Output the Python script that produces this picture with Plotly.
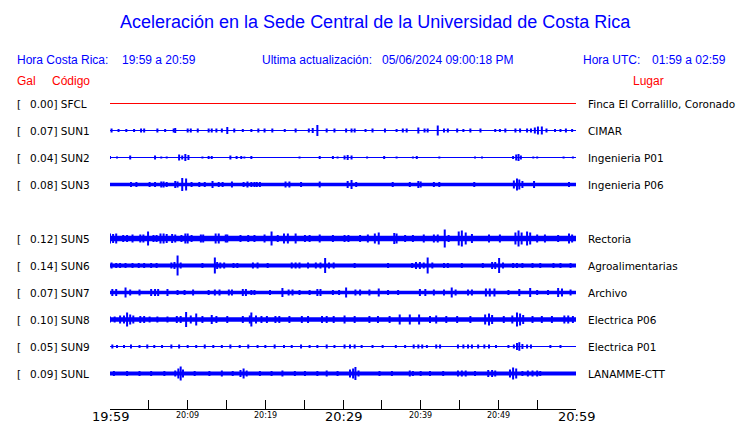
import plotly.graph_objects as go

# ---------------- data ----------------
STATIONS = ["SFCL", "SUN1", "SUN2", "SUN3", "SUN5", "SUN6", "SUN7", "SUN8", "SUN9", "SUNL"]
PEAK_GAL = ["0.00", "0.07", "0.04", "0.08", "0.12", "0.14", "0.07", "0.10", "0.05", "0.09"]
PLACES = ["Finca El Corralillo, Coronado", "CIMAR", "Ingenieria P01", "Ingenieria P06",
          "Rectoria", "Agroalimentarias", "Archivo", "Electrica P06", "Electrica P01", "LANAMME-CTT"]
# channel row (row 4 = SUN4, not reporting)
ROWS = [0, 1, 2, 3, 5, 6, 7, 8, 9, 10]
# background noise half-amplitude (display counts)
BASE_NOISE = [0.5, 0.5, 0.5, 1.85, 2.65, 2.0, 1.65, 2.15, 0.5, 2.0]

# bursts: (minutes after 19:59, half-amplitude in display counts)
SFCL_BURSTS = []
SUN1_BURSTS = [(0.2, 2), (1.1, 1.5), (2.1, 1.5), (3.1, 1.5), (4.0, 2), (4.4, 2), (6.1, 2), (7.1, 1.5), (8.2, 2), (8.4, 2.5),
               (10.0, 2), (10.4, 2), (11.3, 2), (12.7, 2), (13.1, 2), (13.7, 2), (14.4, 2), (15.1, 3.5), (16.0, 2), (17.1, 1.5),
               (18.2, 1.5), (19.1, 2), (19.9, 2), (20.9, 2), (22.5, 1.5), (23.9, 2), (25.6, 2), (26.1, 2.5), (26.7, 5.5), (27.9, 2),
               (28.9, 2), (30.4, 2), (31.1, 2), (31.5, 2), (32.9, 1.5), (33.8, 2), (35.4, 2), (36.9, 1.5), (37.7, 2), (38.2, 2),
               (39.7, 3), (40.5, 2), (40.9, 2), (42.2, 5), (43.0, 2), (43.5, 2), (44.7, 2), (45.5, 1.5), (46.4, 2), (47.7, 2),
               (49.6, 1.5), (50.2, 1.5), (50.9, 2), (52.2, 2), (52.8, 2), (53.7, 2), (54.2, 2), (54.7, 3), (55.1, 4), (55.6, 4),
               (56.2, 2), (57.3, 1.5), (58.0, 1.5), (58.7, 2), (59.5, 1.5)]
SUN2_BURSTS = [(0.0, 1.5), (0.9, 1), (2.6, 2), (5.8, 2), (6.6, 1), (7.3, 1), (8.9, 3), (9.3, 2), (9.7, 3.5), (10.1, 2.5),
               (11.9, 1), (12.7, 1.5), (13.1, 1.5), (15.5, 2), (16.3, 1.5), (16.9, 1.5), (17.3, 1), (18.2, 1.5), (24.4, 1), (27.0, 1.5),
               (28.7, 1.5), (29.3, 1), (30.2, 2), (30.6, 2.5), (31.1, 2), (33.1, 1), (35.3, 1.5), (36.9, 1), (39.0, 1), (39.5, 1.5),
               (42.4, 1), (47.0, 1), (47.9, 1), (51.9, 1.5), (52.3, 3), (52.6, 3.5), (52.9, 2), (54.5, 1), (55.0, 1), (58.4, 1), (59.6, 1)]
SUN3_BURSTS = [(2.7, 2.5), (3.4, 2.5), (5.1, 2.5), (5.8, 2.5), (6.6, 3), (6.9, 3), (7.3, 2.5), (8.4, 3.5), (8.7, 3), (9.3, 6.5),
               (9.8, 6), (10.5, 2.5), (11.5, 2.5), (12.2, 2.5), (13.2, 3.5), (14.0, 2.5), (14.5, 2.5), (15.7, 3), (17.2, 2.5), (17.7, 3),
               (18.2, 2.5), (18.6, 2.5), (18.9, 2.5), (19.3, 2.5), (22.6, 3), (23.1, 3), (24.6, 2.5), (27.0, 3), (30.6, 3.5), (31.1, 4.5),
               (31.7, 2.5), (36.4, 2.5), (38.6, 2.5), (39.7, 3.5), (40.0, 3), (41.7, 2.5), (42.4, 2.5), (46.9, 2.5), (52.0, 4), (52.4, 6),
               (52.7, 5), (53.1, 3.5), (54.6, 3.5), (59.1, 2.5)]
SUN5_BURSTS = [(0.0, 5), (0.4, 4.5), (0.8, 5), (1.7, 3.5), (2.2, 3.5), (2.9, 4), (3.9, 4), (4.3, 4), (4.9, 7), (5.6, 3.5),
               (6.0, 3.5), (6.5, 5), (6.9, 5), (7.3, 4.5), (8.0, 4.5), (8.4, 4), (9.2, 3.5), (9.7, 5), (10.0, 5), (10.5, 3.5),
               (11.7, 4), (12.0, 4), (13.6, 5), (14.0, 5), (14.9, 4), (15.1, 4), (16.8, 3.5), (17.8, 3.5), (18.6, 3.5), (19.9, 4),
               (20.8, 7), (21.6, 3.5), (22.4, 5), (22.9, 5), (23.9, 5), (25.1, 3.5), (25.7, 3.5), (27.0, 4), (28.7, 3.5), (30.2, 3.5),
               (30.7, 3.5), (32.2, 3.5), (33.2, 4), (34.1, 5), (34.6, 6), (36.6, 5.5), (36.9, 5), (38.0, 3.5), (39.0, 3.5), (40.4, 4),
               (41.7, 4), (42.2, 4), (43.1, 9), (43.6, 3.5), (44.9, 7), (45.3, 8), (45.8, 6), (46.6, 4.5), (48.8, 4), (50.2, 4),
               (52.2, 6), (52.6, 8), (53.0, 6), (53.7, 7), (54.1, 6), (55.0, 4), (56.0, 4), (57.7, 3.5), (59.1, 5), (59.5, 4)]
SUN6_BURSTS = [(0.2, 3), (0.8, 2.5), (1.3, 2.5), (2.0, 2.5), (2.9, 2.5), (3.7, 2.5), (4.4, 2.5), (5.3, 2.5), (6.0, 2.5), (7.9, 3),
               (8.3, 3.5), (8.7, 10), (9.1, 3), (11.9, 2.5), (13.5, 8), (13.8, 3.5), (14.2, 3), (14.7, 3), (15.9, 2.5), (16.4, 2.5),
               (18.4, 3), (19.0, 3), (20.3, 2.5), (23.4, 3), (23.9, 3), (24.4, 3), (25.5, 3), (26.5, 3), (27.1, 3), (27.7, 7.5),
               (28.2, 3), (28.8, 3), (31.5, 2.5), (35.8, 2.5), (38.9, 2.5), (39.4, 3.5), (39.9, 3.5), (40.4, 3), (40.9, 8), (41.5, 3),
               (43.0, 2.5), (43.5, 2.5), (45.3, 2.5), (48.0, 2.5), (49.2, 3.5), (49.6, 3.5), (50.1, 7.5), (50.6, 3), (51.9, 2.5), (52.4, 2.5),
               (53.1, 2.5), (54.4, 2.5), (55.4, 2.5), (57.1, 2.5), (58.0, 2.5), (59.3, 2.5)]
SUN7_BURSTS = [(0.3, 3.5), (0.8, 3.5), (2.0, 5), (2.6, 3), (3.8, 3), (5.3, 3.5), (5.8, 3.5), (6.2, 3.5), (7.4, 3.5), (8.7, 2.5),
               (9.6, 2.5), (10.7, 3), (12.7, 2.5), (13.5, 3), (14.1, 3), (15.3, 3), (15.7, 3), (17.1, 3.5), (17.5, 3.5), (18.2, 2.5),
               (18.6, 2.5), (20.6, 2.5), (22.2, 4.5), (23.0, 3), (23.5, 3), (24.4, 2.5), (25.7, 2.5), (26.7, 3.5), (27.1, 3.5), (28.7, 2.5),
               (29.5, 2.5), (30.4, 5), (31.6, 3), (32.2, 3), (33.4, 3), (34.6, 4), (35.8, 2.5), (37.1, 2.5), (39.9, 3.5), (40.6, 3.5),
               (41.7, 3), (43.0, 3), (44.0, 5), (44.5, 3), (46.1, 3), (46.6, 3), (48.4, 4), (48.9, 4), (49.5, 4), (51.3, 2.5),
               (52.7, 3.5), (54.1, 4.5), (55.0, 2.5), (56.4, 2.5), (57.7, 4.5), (58.2, 4), (59.3, 3)]
SUN8_BURSTS = [(0.0, 3), (0.6, 3), (1.3, 4), (1.8, 4), (2.2, 7), (2.6, 5), (3.0, 4), (3.9, 3.5), (4.4, 3.5), (5.1, 3),
               (6.1, 3), (7.4, 3), (8.6, 3.5), (9.1, 3.5), (9.8, 7.5), (10.4, 4), (11.1, 6), (11.9, 3.5), (13.1, 4.5), (13.7, 3.5),
               (15.1, 3.5), (17.1, 3.5), (18.0, 4), (18.2, 7), (18.8, 4), (19.5, 3.5), (20.2, 3.5), (21.3, 3.5), (21.8, 3.5), (23.1, 3.5),
               (24.7, 3.5), (25.5, 3.5), (27.3, 3.5), (27.9, 3.5), (28.8, 3.5), (30.2, 4), (31.5, 3.5), (33.4, 3.5), (34.5, 3.5), (36.0, 3.5),
               (37.3, 5), (38.6, 5), (39.8, 5), (41.2, 3.5), (42.0, 4), (43.3, 3.5), (44.7, 3.5), (46.4, 3.5), (48.3, 5), (48.8, 6),
               (49.2, 4.5), (50.7, 3.5), (51.8, 4), (52.4, 7), (52.8, 6), (53.2, 4.5), (54.4, 3.5), (55.6, 3.5), (56.9, 3.5), (58.5, 4),
               (59.0, 4), (59.6, 3.5)]
SUN9_BURSTS = [(0.3, 2), (0.9, 1.5), (1.8, 1.5), (2.7, 2), (3.8, 1.5), (4.8, 2), (5.7, 1.5), (6.7, 1.5), (7.9, 2), (8.9, 2),
               (10.0, 1.5), (11.1, 1.5), (12.2, 2), (13.3, 1.5), (14.4, 1.5), (15.5, 2), (16.7, 1.5), (17.8, 2), (19.0, 1.5), (20.0, 1.5),
               (21.2, 2), (22.4, 1.5), (23.4, 1.5), (24.6, 2), (25.7, 1.5), (26.7, 1.5), (27.9, 2), (28.9, 1.5), (30.2, 2), (30.9, 2),
               (31.5, 2), (32.4, 1.5), (33.8, 1.5), (35.1, 1.5), (36.8, 1.5), (38.0, 1.5), (39.1, 2), (39.7, 2), (40.2, 2), (40.8, 1.5),
               (42.0, 2), (42.5, 2), (44.8, 2), (45.5, 2), (46.1, 2), (46.6, 2), (47.4, 2), (48.2, 2), (48.8, 2), (49.7, 1.5),
               (51.3, 1.5), (52.0, 2), (52.4, 3.5), (52.7, 4.3), (53.1, 2.5), (53.7, 2), (54.2, 2), (56.7, 1.5), (58.0, 1.5)]
SUNL_BURSTS = [(0.5, 2.5), (2.2, 2.5), (3.8, 2.5), (5.3, 2.5), (7.0, 2.5), (8.4, 3), (8.8, 5), (9.1, 7), (9.4, 4), (10.9, 2.5),
               (12.8, 2.5), (14.4, 3), (15.8, 2.5), (16.8, 3.5), (17.2, 5), (17.6, 3), (19.3, 2.5), (20.8, 2.5), (22.2, 3), (23.8, 2.5),
               (25.1, 2.5), (26.7, 2.5), (27.9, 3), (29.3, 2.5), (30.9, 4), (31.3, 5), (31.6, 6.5), (32.0, 3), (34.7, 2.5), (36.3, 2.5),
               (38.6, 3), (39.0, 2.5), (40.0, 2.5), (41.2, 2.5), (42.9, 2.5), (44.8, 3), (45.3, 3), (45.8, 3), (47.0, 2.5), (48.7, 3.5),
               (49.2, 3.5), (49.6, 3), (51.5, 4), (51.9, 6), (52.3, 5), (53.1, 2.5), (53.8, 3), (54.4, 3), (55.0, 3), (55.4, 2.5)]
BURSTS = [SFCL_BURSTS, SUN1_BURSTS, SUN2_BURSTS, SUN3_BURSTS, SUN5_BURSTS,
          SUN6_BURSTS, SUN7_BURSTS, SUN8_BURSTS, SUN9_BURSTS, SUNL_BURSTS]

TICK_MINUTES = list(range(0, 61, 5))
LABEL_MINUTES = [0, 10, 20, 30, 40, 50, 60]
LABEL_TEXT = ["19:59", "20:09", "20:19", "20:29", "20:39", "20:49", "20:59"]
MAJOR_LABELS = ["19:59", "20:29", "20:59"]

TITLE = "Aceleración en la Sede Central de la Universidad de Costa Rica"
HORA_CR = "19:59 a 20:59"
ACTUALIZACION = "05/06/2024 09:00:18 PM"
HORA_UTC = "01:59 a 02:59"

# ---------------- style ----------------
BLUE = "#0000FF"
RED = "#FF0000"
ROW_H = 27
W, H = 740, 423
ML, MR, MT, MB = 110, 164, 90, 14
PW, PH = W - ML - MR, H - MT - MB
SANS = "Liberation Sans, Arial, sans-serif"
DJ = "DejaVu Sans, sans-serif"
Y_TOP = -13.5  # data value at top edge of plot area


def px_x(px):
    return (px - ML) / PW


def px_y(py):
    return (H - MB - py) / PH


fig = go.Figure()
for i, st in enumerate(STATIONS):
    off = ROWS[i] * ROW_H
    b = BASE_NOISE[i]
    col = RED if st == "SFCL" else BLUE
    fig.add_trace(go.Scatter(x=[0, 60, 60, 0, 0], y=[off - b, off - b, off + b, off + b, off - b],
                             mode="lines", fill="toself", fillcolor=col, line=dict(width=0, color=col),
                             hoverinfo="skip", showlegend=False))
    xs, ys = [], []
    for m, a in BURSTS[i]:
        xs += [m, m, None]
        ys += [off - a, off + a, None]
    if xs:
        fig.add_trace(go.Scatter(x=xs, y=ys, mode="lines", line=dict(color=col, width=2),
                                 hoverinfo="skip", showlegend=False))

ann = []
# station labels
for i, st in enumerate(STATIONS):
    off = ROWS[i] * ROW_H
    ann.append(dict(x=px_x(15), y=off, xref="paper", yref="y", text="[", xanchor="left", yanchor="middle",
                    showarrow=False, font=dict(family=DJ, size=10.5, color="black")))
    ann.append(dict(x=px_x(27.5), y=off, xref="paper", yref="y", text=f"{PEAK_GAL[i]}] {st}",
                    xanchor="left", yanchor="middle", showarrow=False,
                    font=dict(family=DJ, size=10.5, color="black")))
    ann.append(dict(x=px_x(586), y=off, xref="paper", yref="y", text=PLACES[i], xanchor="left",
                    yanchor="middle", showarrow=False, font=dict(family=DJ, size=10.5, color="black")))

# time labels
for m, t in zip(LABEL_MINUTES, LABEL_TEXT):
    big = t in MAJOR_LABELS
    ann.append(dict(x=m, y=px_y(416.5 if big else 415.5), xref="x", yref="paper", text=t, xanchor="center",
                    yanchor="middle", showarrow=False,
                    font=dict(family=DJ, size=13 if big else 8, color="black")))

# header texts
def head(px, py, text, color, size=12, anchor="left", family=SANS):
    ann.append(dict(x=px_x(px), y=px_y(py), xref="paper", yref="paper", text=text, xanchor=anchor,
                    yanchor="middle", showarrow=False, font=dict(family=family, size=size, color=color)))


head(375.5, 22, TITLE, BLUE, size=18, anchor="center")
head(15, 60.5, "Hora Costa Rica:", BLUE)
head(119.5, 60.5, HORA_CR, BLUE)
head(260, 60.5, "Ultima actualización:", BLUE)
head(380, 60.5, ACTUALIZACION, BLUE)
head(580.5, 60.5, "Hora UTC:", BLUE)
head(650, 60.5, HORA_UTC, BLUE)
head(15, 80.5, "Gal", RED)
head(50, 80.5, "Código", RED)
head(631, 80.5, "Lugar", RED)

fig.update_layout(
    width=W, height=H, autosize=False,
    margin=dict(l=ML, r=MR, t=MT, b=MB, pad=0),
    paper_bgcolor="white", plot_bgcolor="white",
    showlegend=False, annotations=ann,
    xaxis=dict(range=[0, 60], showgrid=False, zeroline=False, showline=True, linecolor="black",
               linewidth=1, ticks="inside", ticklen=9, tickwidth=1, tickcolor="black",
               tickvals=TICK_MINUTES, showticklabels=False, fixedrange=True),
    yaxis=dict(range=[Y_TOP + PH, Y_TOP], showgrid=False, zeroline=False, showline=False,
               showticklabels=False, ticks="", fixedrange=True),
)
fig.write_html("out.html", config={"displayModeBar": False},
               post_script="document.body.style.margin='0';document.body.style.padding='0';")
